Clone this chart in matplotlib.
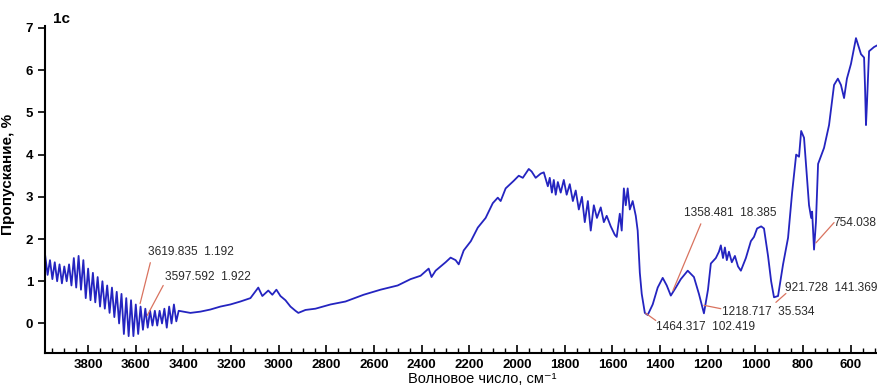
import matplotlib.pyplot as plt
from matplotlib.ticker import MultipleLocator

plt.rcParams["font.family"] = ["Liberation Sans Narrow", "Liberation Sans", "DejaVu Sans"]

# IR spectrum (wavenumber, cm-1 / transmittance, %)
wavenumber = [
    3980, 3970, 3960, 3950, 3940, 3930, 3920, 3910, 3900, 3890,
    3880, 3870, 3860, 3850, 3840, 3830, 3820, 3810, 3800, 3790,
    3780, 3770, 3760, 3750, 3740, 3730, 3720, 3710, 3700, 3690,
    3680, 3670, 3660, 3650, 3640, 3630, 3620, 3610, 3600, 3590,
    3580, 3570, 3560, 3550, 3540, 3530, 3520, 3510, 3500, 3490,
    3480, 3470, 3460, 3450, 3440, 3430, 3420,
    3371, 3329, 3287, 3245, 3203, 3161, 3119, 3086, 3069, 3044,
    3027, 3010, 2993, 2972, 2951, 2930, 2918, 2888, 2846, 2783,
    2720, 2644, 2573, 2501, 2447, 2405, 2371, 2359, 2342, 2300,
    2279, 2258, 2245, 2224, 2194, 2165, 2132, 2102, 2081, 2069,
    2048, 2014, 1993, 1976, 1951, 1939, 1922, 1901, 1888,
    1871, 1863, 1854, 1846, 1838, 1829, 1817, 1804, 1792, 1779,
    1766, 1754, 1741, 1728, 1716, 1703, 1691, 1678, 1665, 1649,
    1636, 1624, 1607, 1590, 1582, 1569, 1561, 1552, 1544, 1536,
    1527, 1515, 1502, 1494, 1485, 1477, 1464, 1452, 1431, 1410,
    1389, 1372, 1355, 1334, 1313, 1284, 1258, 1237, 1216, 1199,
    1187, 1166, 1153, 1145, 1136, 1128, 1120, 1111, 1099, 1086,
    1073, 1061, 1040, 1019, 1006, 993, 976, 964, 947, 934,
    922, 905, 884, 863, 846, 829, 817, 808, 796, 783,
    775, 766, 762, 754, 746, 737, 712, 691, 679, 670,
    654, 641, 628, 616, 599, 578, 557, 544, 540, 536,
    532, 523, 502, 485,
]
transmittance = [
    1.60, 1.15, 1.50, 1.05, 1.45, 1.00, 1.40, 0.95, 1.35, 1.00,
    1.40, 0.90, 1.55, 0.85, 1.60, 0.80, 1.50, 0.60, 1.30, 0.55,
    1.20, 0.50, 1.10, 0.40, 1.00, 0.35, 0.90, 0.25, 0.85, 0.15,
    0.75, 0.00, 0.70, -0.25, 0.60, -0.30, 0.55, -0.30, 0.45, -0.25,
    0.40, -0.15, 0.35, -0.10, 0.30, -0.05, 0.30, -0.05, 0.30, 0.00,
    0.35, -0.10, 0.40, 0.00, 0.45, 0.05, 0.30,
    0.25, 0.28, 0.33, 0.40, 0.45, 0.52, 0.60, 0.85, 0.65, 0.78,
    0.68, 0.80, 0.65, 0.55, 0.40, 0.30, 0.25, 0.32, 0.35, 0.45,
    0.52, 0.68, 0.80, 0.90, 1.05, 1.13, 1.30, 1.10, 1.25, 1.45,
    1.56, 1.50, 1.40, 1.73, 1.95, 2.27, 2.50, 2.85, 2.98, 2.90,
    3.20, 3.38, 3.50, 3.45, 3.66, 3.60, 3.45, 3.55, 3.58,
    3.25, 3.45, 3.10, 3.40, 3.05, 3.35, 3.10, 3.40, 3.05, 3.30,
    2.90, 3.15, 2.70, 3.00, 2.40, 2.90, 2.20, 2.80, 2.50, 2.75,
    2.40, 2.55, 2.30, 2.10, 2.05, 2.60, 2.20, 3.20, 2.80, 3.20,
    2.70, 2.90, 2.55, 2.20, 1.20, 0.70, 0.25, 0.20, 0.45, 0.85,
    1.08, 0.90, 0.66, 0.85, 1.05, 1.25, 1.10, 0.70, 0.24, 0.80,
    1.42, 1.55, 1.70, 1.85, 1.55, 1.80, 1.50, 1.70, 1.45, 1.60,
    1.35, 1.25, 1.55, 1.95, 2.05, 2.25, 2.30, 2.25, 1.60, 1.00,
    0.62, 0.65, 1.40, 2.03, 3.10, 4.00, 3.95, 4.56, 4.40, 3.40,
    2.80, 2.50, 2.65, 1.75, 2.40, 3.78, 4.16, 4.70, 5.25, 5.65,
    5.80, 5.65, 5.34, 5.80, 6.15, 6.76, 6.38, 6.30, 5.60, 4.70,
    5.20, 6.45, 6.55, 6.60,
]

# peak labels: text, point on curve, end of leader, text anchor
peak_labels = ["3619.835  1.192", "3597.592  1.922", "1358.481  18.385",
               "1218.717  35.534", "1464.317  102.419", "921.728  141.369",
               "754.038"]
peak_xy = [(3582, 0.47), (3552, 0.19), (1346, 0.78), (1216, 0.43),
           (1460, 0.24), (914, 0.50), (746, 1.91)]
leader_end = [(3539, 1.44), (3485, 0.90), (1229, 2.36), (1145, 0.35),
              (1418, 0.07), (872, 0.71), (670, 2.39)]
text_pos = [(3548, 1.70), (3476, 1.11), (1300, 2.62), (1140, 0.26),
            (1418, -0.09), (874, 0.83), (672, 2.39)]

fig = plt.figure(figsize=(8.77, 3.88), dpi=100)
ax = fig.add_axes([0.0513, 0.0902, 0.95, 0.8431])

ax.plot(wavenumber, transmittance, color="#2424c0", linewidth=1.3)

for label, xy, end, pos in zip(peak_labels, peak_xy, leader_end, text_pos):
    ax.annotate("", xy=xy, xytext=end,
                arrowprops=dict(arrowstyle="-", color="#d9735f", lw=0.9,
                                shrinkA=0, shrinkB=0))
    ax.text(pos[0], pos[1], label, fontsize=8.6, color="#2a2a2a",
            ha="left", va="center")

ax.set_xlim(3981, 485)
ax.set_ylim(-0.7, 7.05)
ax.xaxis.set_major_locator(MultipleLocator(200))
ax.xaxis.set_minor_locator(MultipleLocator(50))
ax.set_yticks(range(0, 8))

ax.tick_params(axis="x", which="major", direction="in", length=6, width=1.2,
               labelsize=9.5, pad=4)
ax.tick_params(axis="x", which="minor", direction="in", length=3.5, width=1.0)
ax.tick_params(axis="y", direction="out", length=5, width=1.2, labelsize=9.5)
for lab in ax.get_xticklabels() + ax.get_yticklabels():
    lab.set_fontweight("bold")

ax.spines["top"].set_visible(False)
ax.spines["right"].set_visible(False)
ax.spines["left"].set_linewidth(1.5)
ax.spines["bottom"].set_linewidth(1.5)

ax.set_xlabel("Волновое число, см⁻¹", fontsize=10.5,
              family=["Liberation Sans", "DejaVu Sans"])
ax.xaxis.set_label_coords(0.525, -0.058)
ax.set_ylabel("Пропускание, %", fontsize=11, fontweight="bold")
ax.yaxis.set_label_coords(-0.036, 0.545)
fig.text(0.06, 0.95, "1c", fontsize=11, fontweight="bold", va="center")

fig.savefig("out.png", dpi=100)
